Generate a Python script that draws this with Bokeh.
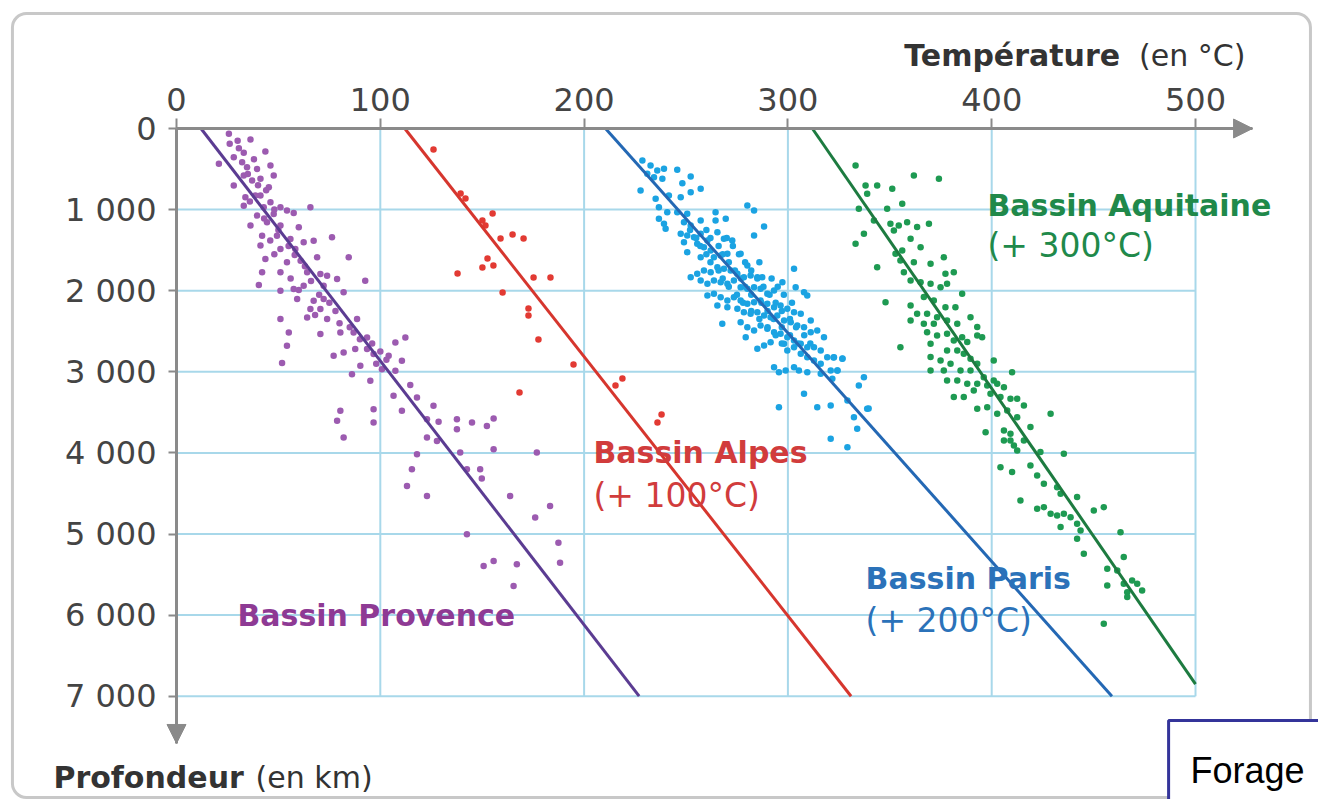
from bokeh.plotting import figure
from bokeh.models import Range1d, FixedTicker, Label, Arrow, NormalHead, BoxAnnotation, LinearAxis
from bokeh.embed import file_html
from bokeh.resources import INLINE

# ---------------- data (temperatures as plotted, depth in m) ----------------
x_ticks = [0, 100, 200, 300, 400, 500]
y_ticks = [0, 1000, 2000, 3000, 4000, 5000, 6000, 7000]
y_tick_labels = ["0", "1 000", "2 000", "3 000", "4 000", "5 000", "6 000", "7 000"]

basins = ["Bassin Provence", "Bassin Alpes", "Bassin Paris", "Bassin Aquitaine"]
offsets = ["", "(+ 100°C)", "(+ 200°C)", "(+ 300°C)"]

# regression lines: temperature at top (depth 0) and at bottom end
line_t0 = [12, 112, 210.5, 312]
line_d0 = [0, 0, 0, 0]
line_t1 = [227, 331, 459, 500]
line_d1 = [7000, 7000, 7000, 6850]

prov_t = [25.7,36.3,30.6,43.6,26.1,28.1,20.8,32.2,34.6,39.5,
          46.1,33.0,37.1,28.1,41.2,47.7,45.3,33.8,38.7,41.2,
          46.1,33.0,42.8,51.0,65.7,39.5,47.7,54.2,57.5,36.3,
          44.4,51.0,60.0,42.0,49.3,55.9,62.4,67.3,76.3,41.2,
          51.0,58.3,69.0,84.5,43.6,54.2,60.9,42.0,51.0,64.1,
          70.6,73.9,78.8,92.6,40.4,51.0,57.5,62.4,72.2,82.0,
          59.2,67.3,72.2,65.7,70.6,73.9,51.0,64.1,88.6,55.1,
          70.6,80.4,86.9,93.5,107.4,112.3,54.2,77.1,82.0,87.7,
          93.5,96.7,104.1,110.6,51.8,90.2,100.8,107.4,86.1,95.1,
          114.7,106.5,118.0,80.4,96.7,78.8,96.7,110.6,126.1,122.9,
          128.6,137.6,145.0,155.6,152.3,137.6,82.0,122.9,127.8,155.6,
          118.0,139.2,176.8,115.5,142.5,149.0,149.8,113.1,122.9,163.7,
          183.3,176.0,142.5,187.4,150.7,155.6,167.0,188.2,165.4,
          30,33,38,35,40,44,36,48,43,50,
          46,55,48,58,63,56,66,60,70,75,
          68,78,80,85,90,96,100,98,103]
prov_d = [66,136,243,284,189,354,436,416,477,498,
          457,580,642,704,621,580,724,848,827,827,
          909,951,971,971,971,1074,1053,1012,1041,1197,
          1156,1197,1218,1321,1321,1362,1403,1383,1341,1444,
          1486,1486,1588,1588,1609,1650,1630,1774,1774,1774,
          1794,1815,1856,1876,1930,2000,1979,1938,1938,2020,
          2103,2123,2103,2226,2226,2350,2350,2329,2350,2514,
          2535,2514,2514,2576,2638,2576,2679,2802,2761,2720,
          2720,2782,2802,2864,2893,2926,2967,2988,3029,3111,
          3164,3296,3317,3481,3461,3605,3625,3481,3420,3584,
          3617,3584,3625,3576,3667,3708,3811,3811,3852,3955,
          4016,3996,3996,4201,4201,4201,4317,4407,4531,4531,
          4654,4798,5004,5107,5395,5333,5374,5354,5642,
          150,300,380,560,700,760,900,1000,1110,1250,
          1380,1450,1550,1560,1700,1850,1880,1990,2050,2150,
          2300,2250,2400,2450,2600,2650,2750,2900,2850]

alp_t = [126.1,139.4,141.8,155.1,150.1,151.6,159.0,164.9,170.3,152.6,
         150.1,155.5,137.9,175.2,183.5,160.0,172.7,172.7,177.6,194.8,
         168.3,215.4,218.8,236.0,238.0]
alp_d = [259,801,863,1048,1134,1196,1356,1307,1356,1603,
         1714,1689,1788,1837,1837,2022,2219,2306,2602,2910,
         3255,3169,3083,3625,3527]

paris_t = [228.6,232.6,235.9,239.2,245.7,231.0,234.3,238.4,227.7,248.2,
           252.3,257.2,252.3,235.1,241.6,247.4,236.7,240.8,245.7,250.6,
           236.7,239.2,240.0,249.0,252.3,257.2,264.5,264.5,269.5,280.1,
           283.4,288.3,283.4,247.4,250.6,253.9,257.2,260.5,265.4,268.6,
           272.7,249.0,255.5,258.8,262.1,250.6,257.2,263.7,267.0,270.3,
           276.8,280.1,252.3,255.5,258.8,262.1,265.4,268.6,271.9,275.2,
           278.4,281.7,285.0,287.4,257.2,260.5,263.7,267.0,270.3,273.5,
           276.8,280.1,283.4,286.6,289.9,293.2,297.3,303.0,303.8,307.9,
           309.5,260.5,263.7,267.0,270.3,273.5,276.8,280.1,283.4,286.6,
           289.9,293.2,296.4,299.7,303.0,306.3,311.2,265.4,270.3,275.2,
           278.4,281.7,285.0,288.3,291.5,294.8,298.1,301.4,304.6,307.9,
           311.2,314.4,317.7,267.8,276.8,280.1,283.4,286.6,289.9,293.2,
           296.4,299.7,303.0,306.3,309.5,312.8,316.1,319.3,322.6,326.7,
           279.3,285.0,288.3,291.5,298.1,299.7,303.0,306.3,309.5,312.8,
           316.1,321.0,324.3,293.2,295.6,298.9,303.0,305.4,309.5,316.1,
           321.8,337.3,334.8,307.9,314.4,321.0,329.2,332.4,338.9,334.0,
           295.6,321.0,329.2,322.4,326.8,324.3,339.6,
           252,260,255,262,270,257,266,273,260,268,
           276,262,271,279,286,266,274,282,268,277,
           285,292,271,279,288,295,275,282,291,298,
           278,287,294,302,282,290,297,286,293,301,
           290,297,304,294,301,308,297,305,311]
paris_d = [395,456,518,497,510,559,600,621,765,674,
           592,744,785,867,826,847,970,1032,1032,1052,
           1114,1176,1237,1155,1196,1134,1032,1134,1114,949,
           1011,1208,1319,1299,1319,1340,1299,1381,1278,1360,
           1381,1402,1422,1463,1504,1525,1587,1587,1566,1545,
           1545,1689,1833,1792,1751,1771,1710,1730,1751,1792,
           1833,1813,1833,1833,1874,1915,1874,1895,1915,1874,
           1956,1977,1956,1977,2039,1998,1895,1730,1956,2018,
           2059,2059,2039,2080,2121,2080,2121,2162,2141,2121,
           2162,2203,2182,2224,2265,2285,2367,2182,2203,2224,
           2265,2285,2265,2306,2326,2306,2367,2388,2429,2450,
           2511,2491,2573,2409,2388,2450,2491,2429,2470,2511,
           2532,2573,2614,2655,2696,2696,2737,2820,2820,2840,
           2573,2717,2676,2635,2655,2737,2696,2778,2820,2861,
           2902,2984,2984,2943,3004,2984,2943,2984,3004,3025,
           3087,3066,3169,3272,3436,3415,3354,3559,3457,3703,
           3436,3826,3929,2824,2836,2984,3453,
           1250,1250,1350,1350,1350,1450,1450,1450,1550,1550,
           1550,1650,1650,1650,1650,1750,1750,1750,1850,1850,
           1850,1850,1950,1950,1950,1950,2050,2050,2050,2050,
           2150,2150,2150,2150,2250,2250,2250,2350,2350,2350,
           2450,2450,2450,2550,2550,2550,2650,2650,2650]

aq_t = [333.2,361.8,374.1,338.1,343.8,351.2,338.9,334.8,348.7,356.1,
        342.2,350.3,354.4,358.5,363.4,369.2,337.3,333.2,352.0,360.2,
        365.1,356.1,352.8,343.8,355.2,361.8,370.0,376.5,377.3,381.4,
        356.9,360.2,365.1,370.0,374.9,378.1,385.5,347.9,366.7,371.6,
        377.3,382.2,360.2,363.4,368.3,373.2,360.2,366.7,371.6,378.1,
        383.1,389.6,392.9,368.3,373.2,378.1,381.4,385.5,388.0,392.9,
        395.3,355.2,370.0,378.1,383.1,386.3,389.6,401.0,370.0,374.9,
        379.8,392.9,370.0,376.5,384.7,389.6,396.1,401.0,410.0,378.1,
        383.1,388.0,392.9,397.8,402.7,406.0,381.4,386.3,391.2,399.4,
        404.3,409.2,412.5,415.8,392.9,397.8,402.7,407.6,412.5,428.9,
        397.0,406.0,409.2,406.0,409.2,410.9,412.5,419.0,415.8,404.3,
        410.0,419.0,423.9,435.4,422.3,425.6,432.1,433.8,441.9,414.1,
        422.3,425.6,428.9,432.1,435.4,438.7,441.9,450.1,455.0,433.8,
        443.6,441.9,445.2,463.2,464.8,456.7,461.6,464.8,468.9,471.4,
        456.7,466.5,466.5,473.8,455.0]
aq_d = [456,579,620,703,703,744,805,990,990,929,
        1134,1175,1196,1155,1216,1175,1299,1422,1257,1360,
        1463,1504,1545,1710,1627,1648,1668,1586,1792,1771,
        1771,1874,1895,1915,1956,1915,2038,2141,2079,2121,
        2203,2203,2182,2285,2285,2326,2367,2408,2408,2367,
        2408,2326,2449,2511,2552,2532,2614,2573,2634,2552,
        2573,2696,2655,2737,2737,2778,2840,2860,2819,2860,
        2901,2901,2984,2984,2984,2984,3066,3107,3004,3107,
        3107,3148,3148,3169,3148,3189,3312,3312,3230,3271,
        3312,3333,3333,3415,3456,3436,3518,3477,3559,3518,
        3744,3723,3765,3847,3847,3908,3970,3682,3847,4176,
        4237,4155,3990,4011,4278,4381,4422,4504,4545,4587,
        4689,4669,4751,4771,4751,4792,4874,4710,4669,4915,
        4956,5059,5244,4977,5285,5429,5450,5614,5573,5614,
        5635,5717,5778,5696,6107]

point_colors = ["#9c5bb0", "#e23a33", "#1ba3e2", "#1e9a52"]
line_colors = ["#5b3c92", "#d6362e", "#2468b4", "#1d7b40"]
text_colors = ["#8e3a94", "#d13c3c", "#2b72b9", "#20894a"]

# ---------------- figure ----------------
X_END = 528      # arrow tip of temperature axis
Y_END = 7583     # arrow tip of depth axis
p = figure(width=1318, height=799, output_backend="svg", toolbar_location=None,
           x_range=Range1d(-86.36, 560.35), y_range=Range1d(8273.7, -1578.3),
           x_axis_location=None, y_axis_location=None, min_border=0)
p.min_border_left = p.min_border_right = p.min_border_top = p.min_border_bottom = 0
p.xgrid.visible = False
p.ygrid.visible = False
p.outline_line_color = None
p.background_fill_color = "white"
p.border_fill_color = "white"

AX = "#8a8a8a"
xa = LinearAxis(fixed_location=0, bounds=(0, X_END), ticker=FixedTicker(ticks=x_ticks))
ya = LinearAxis(fixed_location=0, bounds=(0, Y_END), ticker=FixedTicker(ticks=y_ticks))
for ax in (xa, ya):
    ax.axis_line_color = AX
    ax.axis_line_width = 3
    ax.major_tick_line_color = AX
    ax.major_tick_line_width = 2
    ax.major_tick_in = 0
    ax.minor_tick_line_color = None
    ax.major_label_text_font = "DejaVu Sans"
    ax.major_label_text_font_size = "32px"
    ax.major_label_text_color = "#444444"
xa.major_tick_out = 10
xa.major_label_standoff = 8
ya.major_label_overrides = {t: l for t, l in zip(y_ticks, y_tick_labels)}
ya.major_tick_out = 8
ya.major_label_standoff = 12
p.add_layout(xa, "above")
p.add_layout(ya, "left")

# grid drawn only inside the 0-500 / 0-7000 box
gx = [t for t in x_ticks if t > 0]
gy = [d for d in y_ticks if d > 0]
p.segment(x0=gx, y0=[0] * len(gx), x1=gx, y1=[y_ticks[-1]] * len(gx),
          line_color="#a8d8ea", line_width=2)
p.segment(x0=[0] * len(gy), y0=gy, x1=[x_ticks[-1]] * len(gy), y1=gy,
          line_color="#a8d8ea", line_width=2)

# scatter points
for (tt, dd), c in zip([(prov_t, prov_d), (alp_t, alp_d), (paris_t, paris_d), (aq_t, aq_d)],
                       point_colors):
    p.scatter(x=tt, y=dd, size=6.5, fill_color=c, line_color=None)

# regression lines
p.segment(x0=line_t0, y0=line_d0, x1=line_t1, y1=line_d1,
          line_color=line_colors, line_width=3)

# axis arrows
p.add_layout(Arrow(end=NormalHead(size=19, fill_color=AX, line_color=AX, line_width=1),
                   x_start=X_END - 15, y_start=0, x_end=X_END, y_end=0, line_alpha=0))
p.add_layout(Arrow(end=NormalHead(size=19, fill_color=AX, line_color=AX, line_width=1),
                   x_start=0, y_start=Y_END - 250, x_end=0, y_end=Y_END, line_alpha=0))


def lab(x, y, text, color="#333333", size="30px", bold=False, align="left",
        font="DejaVu Sans"):
    p.add_layout(Label(x=x, y=y, text=text, text_color=color, text_font=font,
                       text_font_size=size, text_font_style="bold" if bold else "normal",
                       text_align=align, text_baseline="alphabetic"))


# axis titles
lab(463, -900, "Température", bold=True, align="right")
lab(524.5, -900, "(en °C)", align="right")
lab(-60.4, 8003, "Profondeur", bold=True)
lab(38.8, 8003, "(en km)")

# basin labels
name_pos = [(29.9, 6005), (204.6, 3995), (338.1, 5549), (397.9, 949)]
off_pos = [(None, None), (204.6, 4525), (338.1, 6067), (397.9, 1443)]
for i in range(4):
    lab(name_pos[i][0], name_pos[i][1], basins[i], color=text_colors[i], size="30px", bold=True)
    if offsets[i]:
        lab(off_pos[i][0], off_pos[i][1], offsets[i], color=text_colors[i], size="33px")

# outer rounded frame
bkw = dict(left=-80.5, right=556.4, top=-1418, bottom=8249, fill_alpha=0,
           line_color="#c8c8c8", line_alpha=1, line_width=3)
if "border_radius" in BoxAnnotation.properties():
    bkw["border_radius"] = 14
p.add_layout(BoxAnnotation(**bkw))

# "Forage" box
p.add_layout(BoxAnnotation(left=486.8, right=640, top=7300, bottom=9200,
                           fill_color="white", fill_alpha=1,
                           line_color="#34349a", line_alpha=1, line_width=3))
lab(497.5, 7916, "Forage", color="black", size="36px", font="Liberation Sans")

open("out.html", "w").write(file_html(p, INLINE))
